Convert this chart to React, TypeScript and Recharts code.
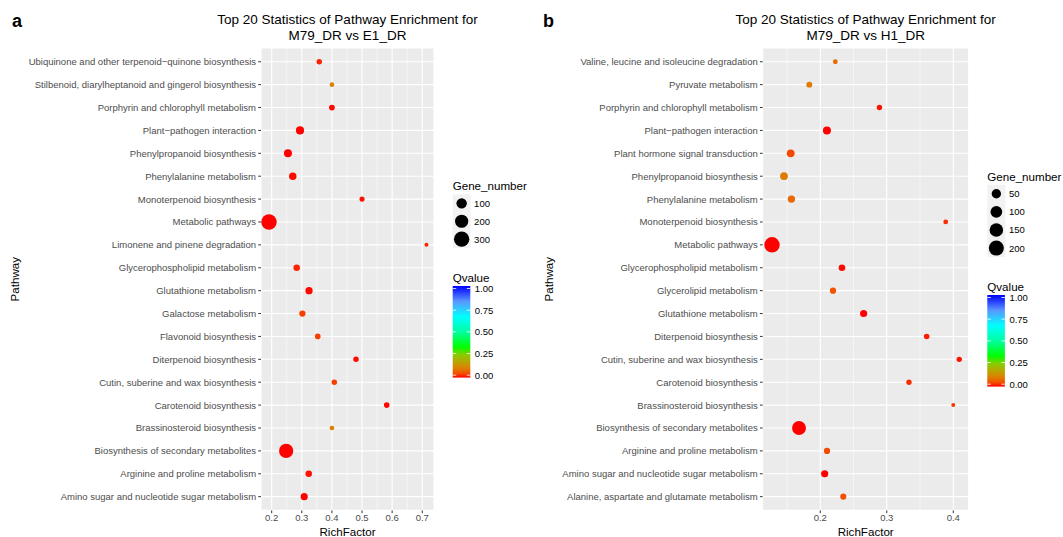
import React from 'react';
import { ScatterChart, Scatter, XAxis, YAxis, CartesianGrid, ReferenceLine } from 'recharts';

// panel a: M79_DR vs E1_DR (top row first)
const pathwaysA = [
  'Ubiquinone and other terpenoid\u2212quinone biosynthesis',
  'Stilbenoid, diarylheptanoid and gingerol biosynthesis',
  'Porphyrin and chlorophyll metabolism',
  'Plant\u2212pathogen interaction',
  'Phenylpropanoid biosynthesis',
  'Phenylalanine metabolism',
  'Monoterpenoid biosynthesis',
  'Metabolic pathways',
  'Limonene and pinene degradation',
  'Glycerophospholipid metabolism',
  'Glutathione metabolism',
  'Galactose metabolism',
  'Flavonoid biosynthesis',
  'Diterpenoid biosynthesis',
  'Cutin, suberine and wax biosynthesis',
  'Carotenoid biosynthesis',
  'Brassinosteroid biosynthesis',
  'Biosynthesis of secondary metabolites',
  'Arginine and proline metabolism',
  'Amino sugar and nucleotide sugar metabolism',
];
const richFactorA = [0.358, 0.4, 0.4, 0.294, 0.254, 0.27, 0.5, 0.191, 0.714, 0.283, 0.324, 0.302, 0.353, 0.48, 0.408, 0.582, 0.4, 0.248, 0.323, 0.308];
const geneNumberA = [10, 6, 12, 45, 42, 33, 8, 310, 5, 20, 30, 17, 11, 10, 10, 11, 6, 245, 20, 27];
const qvalueA = [0.02, 0.11, 0.005, 0, 0, 0.005, 0.01, 0, 0.02, 0.02, 0.005, 0.035, 0.035, 0.005, 0.035, 0.003, 0.11, 0, 0.01, 0];
const xTicksA = [0.2, 0.3, 0.4, 0.5, 0.6, 0.7];
const xMinorA = [0.25, 0.35, 0.45, 0.55, 0.65];
const sizeBreaksA = [100, 200, 300];

// panel b: M79_DR vs H1_DR
const pathwaysB = [
  'Valine, leucine and isoleucine degradation',
  'Pyruvate metabolism',
  'Porphyrin and chlorophyll metabolism',
  'Plant\u2212pathogen interaction',
  'Plant hormone signal transduction',
  'Phenylpropanoid biosynthesis',
  'Phenylalanine metabolism',
  'Monoterpenoid biosynthesis',
  'Metabolic pathways',
  'Glycerophospholipid metabolism',
  'Glycerolipid metabolism',
  'Glutathione metabolism',
  'Diterpenoid biosynthesis',
  'Cutin, suberine and wax biosynthesis',
  'Carotenoid biosynthesis',
  'Brassinosteroid biosynthesis',
  'Biosynthesis of secondary metabolites',
  'Arginine and proline metabolism',
  'Amino sugar and nucleotide sugar metabolism',
  'Alanine, aspartate and glutamate metabolism',
];
const richFactorB = [0.2226, 0.1835, 0.289, 0.21, 0.1555, 0.1454, 0.1566, 0.3886, 0.1274, 0.2326, 0.2191, 0.2652, 0.36, 0.409, 0.3334, 0.4, 0.168, 0.2101, 0.2066, 0.2346];
const geneNumberB = [5, 10, 7, 30, 27, 26, 22, 5, 215, 15, 12, 20, 8, 7, 7, 4, 160, 12, 20, 11];
const qvalueB = [0.08, 0.1, 0.01, 0, 0.04, 0.1, 0.075, 0.025, 0, 0.005, 0.05, 0, 0.015, 0.01, 0.025, 0.03, 0, 0.04, 0, 0.045];
const xTicksB = [0.2, 0.3, 0.4];
const xMinorB = [0.15, 0.25, 0.35];
const sizeBreaksB = [50, 100, 150, 200];

const qTicks = [0, 0.25, 0.5, 0.75, 1];

const FONT = '"Liberation Sans", Arial, Helvetica, sans-serif';
const SMALL = 9.5;
const MEDIUM = 11.6;

// red -> green -> cyan -> blue, roughly as interpolated in Lab
const colorStops: [number, number[]][] = [
  [0, [255, 0, 0]],
  [0.042, [244, 76, 0]],
  [0.083, [230, 112, 0]],
  [0.125, [210, 140, 0]],
  [0.167, [186, 163, 0]],
  [0.25, [135, 205, 0]],
  [0.333, [0, 255, 0]],
  [0.5, [0, 255, 160]],
  [0.667, [0, 255, 255]],
  [0.833, [90, 150, 255]],
  [1, [0, 0, 255]],
];

function qColor(q: number) {
  for (let i = 1; i < colorStops.length; i++) {
    const [q1, c1] = colorStops[i];
    const [q0, c0] = colorStops[i - 1];
    if (q <= q1) {
      const t = (q - q0) / (q1 - q0);
      const c = c0.map((v, k) => Math.round(v + (c1[k] - v) * t));
      return `rgb(${c[0]},${c[1]},${c[2]})`;
    }
  }
  return 'rgb(0,0,255)';
}

// ggplot-like area scale: diameter grows with sqrt of rescaled value
function makeSize(genes: number[], dMin = 4, dMax = 15.5) {
  const lo = Math.min(...genes);
  const hi = Math.max(...genes);
  return (n: number) => dMin + (dMax - dMin) * Math.sqrt(Math.max(0, n - lo) / (hi - lo));
}

interface PanelProps {
  left: number;
  width: number;
  letter: string;
  subtitle: string;
  pathways: string[];
  rich: number[];
  genes: number[];
  q: number[];
  xDomain: [number, number];
  xTicks: number[];
  xMinor: number[];
  sizeBreaks: number[];
  axisWidth: number;
  labelOffset: number;
  marginRight: number;
  legendX: number;
  legendY: number;
  keySize: number;
}

const PLOT_TOP = 48;
const PLOT_BOTTOM = 510.4;
const HEIGHT = 537;

const Panel: React.FC<PanelProps> = (p) => {
  const n = p.pathways.length;
  const data = p.pathways.map((name, i) => ({
    pathway: name,
    rich: p.rich[i],
    gene: p.genes[i],
    q: p.q[i],
    row: n - i,
  }));
  const size = makeSize(p.genes);
  const rows = data.map((d) => d.row).reverse();
  const plotLeft = 5 + p.axisWidth;
  const plotRight = p.width - p.marginRight;
  const centerX = (plotLeft + plotRight) / 2;

  const keysTop = p.legendY + 8.7;
  const keysEnd = keysTop + p.sizeBreaks.length * p.keySize;
  const qTitleY = keysEnd + 29.4;
  const barTop = qTitleY + 8.5;
  const barW = 17.6;
  const barH = 91.6;
  const qy = (v: number) => barTop + 89.2 - v * 86.7;
  const gradId = `qgrad-${p.letter}`;

  const Dot = (props: any) => {
    const { cx, cy, payload } = props;
    if (cx == null || cy == null) return null;
    return <circle cx={cx} cy={cy} r={size(payload.gene) / 2} fill={qColor(payload.q)} />;
  };

  const PathTick = (props: any) => {
    const { x, y, payload } = props;
    return (
      <text x={x} y={y} textAnchor="end" dominantBaseline="central" fontSize={SMALL} fill="#4D4D4D" fontFamily={FONT}>
        {p.pathways[n - payload.value]}
      </text>
    );
  };

  return (
    <div style={{ position: 'absolute', left: p.left, top: 0, width: p.width, height: HEIGHT }}>
      <ScatterChart
        width={p.width}
        height={HEIGHT}
        margin={{ top: PLOT_TOP, right: p.marginRight, bottom: 0, left: 5 }}
        style={{ fontFamily: FONT }}
      >
        <CartesianGrid fill="#EBEBEB" fillOpacity={1} stroke="#FFFFFF" strokeWidth={1.1} />
        {p.xMinor.map((v) => (
          <ReferenceLine key={v} x={v} stroke="#FFFFFF" strokeWidth={0.55} ifOverflow="hidden" />
        ))}
        <XAxis
          type="number"
          dataKey="rich"
          domain={p.xDomain}
          allowDataOverflow
          ticks={p.xTicks}
          interval={0}
          height={HEIGHT - PLOT_BOTTOM}
          axisLine={false}
          tickSize={2.75}
          tickMargin={1}
          tickLine={{ stroke: '#333333', strokeWidth: 1 }}
          tick={{ fill: '#4D4D4D', fontSize: SMALL, fontFamily: FONT }}
          label={{ value: 'RichFactor', position: 'insideBottom', offset: 1, fill: '#000', fontSize: MEDIUM, fontFamily: FONT }}
        />
        <YAxis
          type="number"
          dataKey="row"
          domain={[0.4, n + 0.6]}
          allowDataOverflow
          ticks={rows}
          interval={0}
          width={p.axisWidth}
          axisLine={false}
          tickSize={2.75}
          tickMargin={2.2}
          tickLine={{ stroke: '#333333', strokeWidth: 1 }}
          tick={PathTick}
          label={{
            value: 'Pathway',
            angle: -90,
            position: 'insideLeft',
            offset: p.labelOffset,
            fill: '#000',
            fontSize: MEDIUM,
            fontFamily: FONT,
            style: { textAnchor: 'middle' },
          }}
        />
        <Scatter data={data} shape={Dot} isAnimationActive={false} />
      </ScatterChart>

      <svg
        width={p.width}
        height={HEIGHT}
        style={{ position: 'absolute', left: 0, top: 0, pointerEvents: 'none', fontFamily: FONT, overflow: 'visible' }}
      >
        <defs>
          <linearGradient id={gradId} x1="0" y1="1" x2="0" y2="0">
            {colorStops.map(([s, c]) => (
              <stop key={s} offset={s} stopColor={`rgb(${c[0]},${c[1]},${c[2]})`} />
            ))}
          </linearGradient>
        </defs>
        <text x={12} y={26.5} fontSize={18} fontWeight="bold" fill="#000">{p.letter}</text>
        <text x={centerX} y={24} fontSize={13.5} textAnchor="middle" fill="#000">
          Top 20 Statistics of Pathway Enrichment for
        </text>
        <text x={centerX} y={40} fontSize={13.5} textAnchor="middle" fill="#000">{p.subtitle}</text>

        <text x={p.legendX} y={p.legendY} fontSize={MEDIUM} dominantBaseline="central" fill="#000">Gene_number</text>
        {p.sizeBreaks.map((b, i) => {
          const y = keysTop + i * p.keySize;
          return (
            <g key={b}>
              <rect x={p.legendX} y={y} width={p.keySize} height={p.keySize} fill="#F2F2F2" />
              <circle cx={p.legendX + p.keySize / 2} cy={y + p.keySize / 2} r={size(b) / 2} fill="#000" />
              <text x={p.legendX + p.keySize + 3.5} y={y + p.keySize / 2} fontSize={SMALL} dominantBaseline="central" fill="#000">
                {b}
              </text>
            </g>
          );
        })}

        <text x={p.legendX} y={qTitleY} fontSize={MEDIUM} dominantBaseline="central" fill="#000">Qvalue</text>
        <rect x={p.legendX} y={barTop} width={barW} height={barH} fill={`url(#${gradId})`} />
        {qTicks.map((v) => (
          <g key={v}>
            <line x1={p.legendX} x2={p.legendX + barW / 5} y1={qy(v)} y2={qy(v)} stroke="#fff" strokeWidth={0.8} />
            <line x1={p.legendX + barW * 0.8} x2={p.legendX + barW} y1={qy(v)} y2={qy(v)} stroke="#fff" strokeWidth={0.8} />
            <text x={p.legendX + barW + 4.5} y={qy(v)} fontSize={SMALL} dominantBaseline="central" fill="#000">
              {v.toFixed(2)}
            </text>
          </g>
        ))}
      </svg>
    </div>
  );
};

export default function App() {
  return (
    <div style={{ position: 'absolute', left: 0, top: 0, width: 1063, height: HEIGHT, background: '#fff', overflow: 'hidden' }}>
      <Panel
        left={0}
        width={531}
        letter="a"
        subtitle="M79_DR vs E1_DR"
        pathways={pathwaysA}
        rich={richFactorA}
        genes={geneNumberA}
        q={qvalueA}
        xDomain={[0.1645, 0.739]}
        xTicks={xTicksA}
        xMinor={xMinorA}
        sizeBreaks={sizeBreaksA}
        axisWidth={256}
        labelOffset={10}
        marginRight={97}
        legendX={452.7}
        legendY={185.7}
        keySize={17.9}
      />
      <Panel
        left={531}
        width={532}
        letter="b"
        subtitle="M79_DR vs H1_DR"
        pathways={pathwaysB}
        rich={richFactorB}
        genes={geneNumberB}
        q={qvalueB}
        xDomain={[0.1134, 0.4232]}
        xTicks={xTicksB}
        xMinor={xMinorB}
        sizeBreaks={sizeBreaksB}
        axisWidth={226.7}
        labelOffset={13}
        marginRight={94.3}
        legendX={456.3}
        legendY={176}
        keySize={18.1}
      />
    </div>
  );
}
